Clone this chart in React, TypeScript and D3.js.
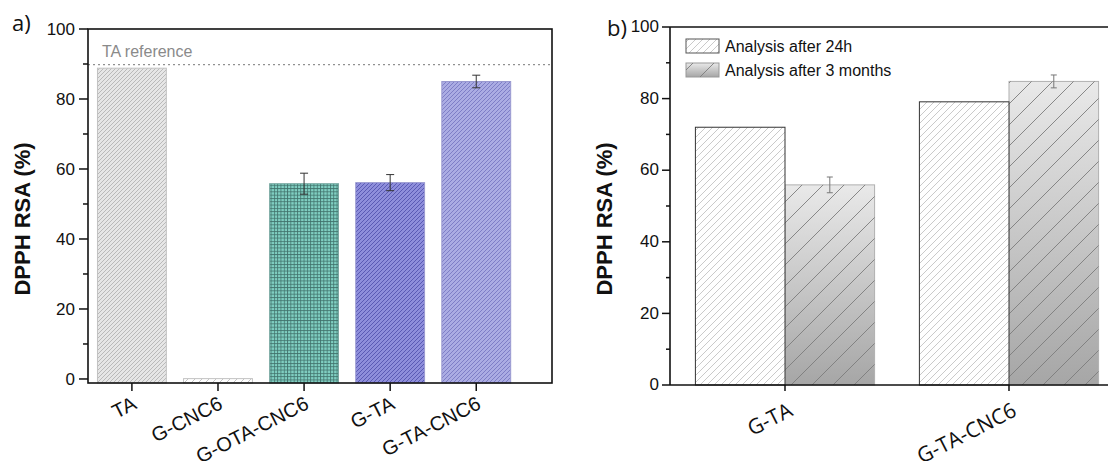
import React from "react";
import * as d3 from "d3";

const catsA = ["TA", "G-CNC6", "G-OTA-CNC6", "G-TA", "G-TA-CNC6"];
const valsA = [88.8, 0.1, 55.8, 56.1, 85.0];
const errA = [0, 0, 3.0, 2.3, 1.8];
const patA = ["pTA", "pGC", "pGO", "pGT", "pGTC"];
const refA = 89.8;

const catsB = ["G-TA", "G-TA-CNC6"];
const vals24h = [72.0, 79.1];
const vals3m = [55.9, 84.8];
const err3m = [2.2, 1.8];
const seriesB = ["Analysis after 24h", "Analysis after 3 months"];

const yTicks = [0, 20, 40, 60, 80, 100];
const yMinor = [10, 30, 50, 70, 90];

const tickFont = "'Liberation Sans', Arial, sans-serif";
const labFont = "'Open Sans', 'Liberation Sans', sans-serif";

function Hatch({ id, bg, line, size, width, grid }: any) {
  return (
    <pattern id={id} patternUnits="userSpaceOnUse" width={size} height={size}>
      <rect width={size} height={size} fill={bg} />
      {grid ? (
        <g stroke={line} strokeWidth={width}>
          <line x1={0} y1={0.5} x2={size} y2={0.5} />
          <line x1={0.5} y1={0} x2={0.5} y2={size} />
        </g>
      ) : (
        <g stroke={line} strokeWidth={width}>
          <line x1={-1} y1={size + 1} x2={size + 1} y2={-1} />
          <line x1={-1} y1={1} x2={1} y2={-1} />
          <line x1={size - 1} y1={size + 1} x2={size + 1} y2={size - 1} />
        </g>
      )}
    </pattern>
  );
}

export default function App() {
  const xA = d3.scaleLinear().domain([0.49, 5.88]).range([88, 552]);
  const yA = d3.scaleLinear().domain([-1.15, 100]).range([383, 29]);
  const bwA = xA(1.8) - xA(1);
  const xB = d3.scaleLinear().domain([0.4866, 2.442]).range([670, 1108]);
  const yB = d3.scaleLinear().domain([0, 100]).range([385, 27]);
  const bwB = xB(1.4) - xB(1);

  const a0 = yA.range()[0];
  const b0 = yB.range()[0];

  return (
    <svg width={1108} height={461} style={{ position: "absolute", left: 0, top: 0, background: "#fff" }}>
      <defs>
        <Hatch id="pTA" bg="#e6e6e6" line="#b4b4b4" size={4} width={0.9} />
        <Hatch id="pGC" bg="#ffffff" line="#c4c4c4" size={7} width={1} />
        <Hatch id="pGO" bg="#80cfc2" line="#3f6f6a" size={3.3} width={0.8} grid />
        <Hatch id="pGT" bg="#8e8edb" line="#5a5ab4" size={4} width={1} />
        <Hatch id="pGTC" bg="#abace3" line="#7e7ec6" size={4} width={1} />
        <Hatch id="p24" bg="#ffffff" line="#bdbdbd" size={7} width={0.8} />
        <pattern id="p3m" patternUnits="userSpaceOnUse" width={21} height={21}>
          <line x1={-1} y1={22} x2={22} y2={-1} stroke="#7d7d7d" strokeWidth={0.9} />
          <line x1={-1} y1={1} x2={1} y2={-1} stroke="#7d7d7d" strokeWidth={0.9} />
          <line x1={20} y1={22} x2={22} y2={20} stroke="#7d7d7d" strokeWidth={0.9} />
        </pattern>
        <linearGradient id="g3m" x1="0" y1="0" x2="0" y2="1">
          <stop offset="0" stopColor="#e9e9e9" />
          <stop offset="1" stopColor="#a6a6a6" />
        </linearGradient>
      </defs>

      {/* ---------- Panel a ---------- */}
      <text x={12} y={31} fontFamily={labFont} fontSize={22} fill="#111">a)</text>
      <line x1={88} x2={552} y1={yA(refA)} y2={yA(refA)} stroke="#777" strokeWidth={1} strokeDasharray="2,3" />
      <text x={102} y={57} fontFamily={tickFont} fontSize={16} fill="#8a8a8a">TA reference</text>
      {catsA.map((c, i) => {
        const cx = xA(i + 1);
        const top = yA(valsA[i]);
        return (
          <g key={c}>
            <rect x={cx - bwA / 2} y={top} width={bwA} height={a0 - top} fill={`url(#${patA[i]})`}
              stroke={i === 0 || i === 1 ? "#c2c2c2" : i === 2 ? "#7aa8a2" : "#9a9ad0"} strokeWidth={1} />
            {errA[i] > 0 && (
              <g stroke="#333" strokeWidth={1}>
                <line x1={cx} x2={cx} y1={yA(valsA[i] + errA[i])} y2={yA(valsA[i] - errA[i])} />
                <line x1={cx - 4} x2={cx + 4} y1={yA(valsA[i] + errA[i])} y2={yA(valsA[i] + errA[i])} />
                <line x1={cx - 4} x2={cx + 4} y1={yA(valsA[i] - errA[i])} y2={yA(valsA[i] - errA[i])} />
              </g>
            )}
          </g>
        );
      })}
      <rect x={88} y={29} width={552 - 88} height={a0 - 29} fill="none" stroke="#111" strokeWidth={1.6} />
      {yTicks.map((t) => (
        <g key={t}>
          <line x1={79} x2={88} y1={yA(t)} y2={yA(t)} stroke="#111" strokeWidth={1.5} />
          <text x={75} y={yA(t)} dy="0.36em" textAnchor="end" fontFamily={tickFont} fontSize={17} fill="#111">{t}</text>
        </g>
      ))}
      {yMinor.map((t) => (
        <line key={t} x1={83} x2={88} y1={yA(t)} y2={yA(t)} stroke="#111" strokeWidth={1.5} />
      ))}
      {catsA.map((c, i) => (
        <g key={c}>
          <line x1={xA(i + 1)} x2={xA(i + 1)} y1={a0} y2={a0 + 8} stroke="#111" strokeWidth={1.5} />
          <text transform={`translate(${xA(i + 1) + 6},${a0 + 25}) rotate(-27)`} textAnchor="end"
            fontFamily={tickFont} fontSize={20} fill="#111">{c}</text>
        </g>
      ))}
      <text transform="translate(30,219) rotate(-90)" textAnchor="middle" fontFamily={tickFont} fontWeight="bold" fontSize={22} fill="#111">DPPH RSA (%)</text>

      {/* ---------- Panel b ---------- */}
      <text x={607} y={36} fontFamily={labFont} fontSize={22} fill="#111">b)</text>
      {catsB.map((c, i) => {
        const cx = xB(i + 1);
        const t24 = yB(vals24h[i]);
        const t3 = yB(vals3m[i]);
        return (
          <g key={c}>
            <rect x={cx} y={t3} width={bwB} height={b0 - t3} fill="url(#g3m)" stroke="#b0b0b0" strokeWidth={1} />
            <rect x={cx} y={t3} width={bwB} height={b0 - t3} fill="url(#p3m)" />
            <rect x={cx - bwB} y={t24} width={bwB} height={b0 - t24} fill="url(#p24)" stroke="#333" strokeWidth={1} />
            <g stroke="#777" strokeWidth={1}>
              <line x1={cx + bwB / 2} x2={cx + bwB / 2} y1={yB(vals3m[i] + err3m[i])} y2={yB(vals3m[i] - err3m[i])} />
              <line x1={cx + bwB / 2 - 3} x2={cx + bwB / 2 + 3} y1={yB(vals3m[i] + err3m[i])} y2={yB(vals3m[i] + err3m[i])} />
              <line x1={cx + bwB / 2 - 3} x2={cx + bwB / 2 + 3} y1={yB(vals3m[i] - err3m[i])} y2={yB(vals3m[i] - err3m[i])} />
            </g>
          </g>
        );
      })}
      <line x1={670} x2={1108} y1={27} y2={27} stroke="#111" strokeWidth={1.6} />
      <line x1={670} x2={1108} y1={b0} y2={b0} stroke="#111" strokeWidth={1.6} />
      <line x1={670} x2={670} y1={27} y2={b0} stroke="#111" strokeWidth={1.6} />
      {yTicks.map((t) => (
        <g key={t}>
          <line x1={662} x2={670} y1={yB(t)} y2={yB(t)} stroke="#111" strokeWidth={1.5} />
          <text x={659} y={yB(t)} dy="0.3em" textAnchor="end" fontFamily={tickFont} fontSize={17} fill="#111">{t}</text>
        </g>
      ))}
      {yMinor.map((t) => (
        <line key={t} x1={666} x2={670} y1={yB(t)} y2={yB(t)} stroke="#111" strokeWidth={1.5} />
      ))}
      {catsB.map((c, i) => (
        <g key={c}>
          <line x1={xB(i + 1)} x2={xB(i + 1)} y1={b0} y2={b0 + 6} stroke="#111" strokeWidth={1.5} />
          <text transform={`translate(${xB(i + 1) + 9},${b0 + 30}) rotate(-27)`} textAnchor="end"
            fontFamily={labFont} fontSize={21} fill="#111">{c}</text>
        </g>
      ))}
      <text transform="translate(612,219) rotate(-90)" textAnchor="middle" fontFamily={tickFont} fontWeight="bold" fontSize={22} fill="#111">DPPH RSA (%)</text>
      {seriesB.map((s, i) => (
        <g key={s}>
          {i === 0 ? (
            <rect x={686} y={39 + i * 24} width={33} height={14} fill="url(#p24)" stroke="#555" strokeWidth={1} />
          ) : (
            <g>
              <rect x={686} y={39 + i * 24} width={33} height={14} fill="url(#g3m)" stroke="#999" strokeWidth={1} />
              <rect x={686} y={39 + i * 24} width={33} height={14} fill="url(#p3m)" />
            </g>
          )}
          <text x={725} y={52 + i * 24} fontFamily={tickFont} fontSize={16} fill="#111">{s}</text>
        </g>
      ))}
    </svg>
  );
}
